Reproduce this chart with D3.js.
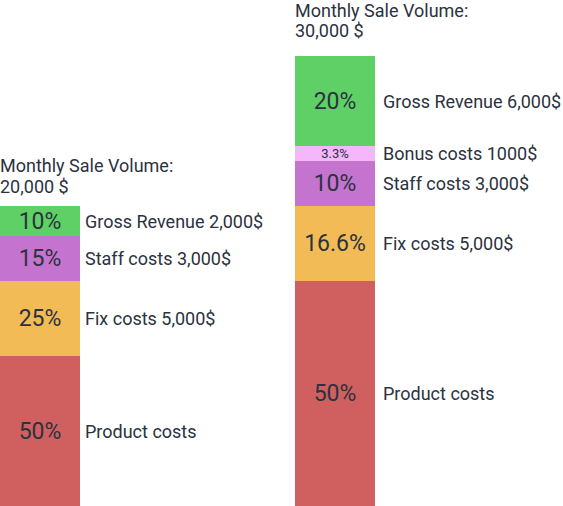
<!DOCTYPE html>
<html><head><meta charset="utf-8">
<script src="https://cdn.jsdelivr.net/npm/d3@7"></script>
<style>html,body{margin:0;padding:0;background:#fff;}svg{display:block;font-family:Roboto,sans-serif;}</style>
</head><body><svg id="c" width="563" height="506"></svg>
<script>
const barNames = ["20,000 $", "30,000 $"];
const barTotals = [20000, 30000];
const titleLine1 = "Monthly Sale Volume:";
const leftValues = [10000, 5000, 3000, 2000];
const leftPct = ["50%", "25%", "15%", "10%"];
const leftLabels = ["Product costs", "Fix costs 5,000$", "Staff costs 3,000$", "Gross Revenue 2,000$"];
const leftColors = ["#cf605f", "#f2bb55", "#c474cf", "#5fd066"];
const rightValues = [15000, 5000, 3000, 1000, 6000];
const rightPct = ["50%", "16.6%", "10%", "3.3%", "20%"];
const rightLabels = ["Product costs", "Fix costs 5,000$", "Staff costs 3,000$", "Bonus costs 1000$", "Gross Revenue 6,000$"];
const rightColors = ["#cf605f", "#f2bb55", "#c474cf", "#f4b8fa", "#5fd066"];

const svg = d3.select("#c");
const x = d3.scaleBand().domain(barNames).range([0, 375]).paddingInner(1 - 80 / 295).paddingOuter(0);
const y = d3.scaleLinear().domain([0, 30000]).range([506, 56]);
const textColor = "#2b3240";

const groups = [
  {name: barNames[0], total: barTotals[0], values: leftValues, pct: leftPct, labels: leftLabels, colors: leftColors},
  {name: barNames[1], total: barTotals[1], values: rightValues, pct: rightPct, labels: rightLabels, colors: rightColors}
];
const labelGap = [5, 8];
const titleOff = [[34, 13], [39, 19]];

groups.forEach((g, gi) => {
  let acc = 0;
  const segs = g.values.map((v, i) => {
    const s = {y0: acc, y1: acc + v, pct: g.pct[i], label: g.labels[i], color: g.colors[i]};
    acc += v;
    return s;
  });
  const gx = x(g.name), bw = x.bandwidth();
  const G = svg.append("g");
  G.selectAll("rect").data(segs).join("rect")
    .attr("x", gx).attr("width", bw)
    .attr("y", d => y(d.y1)).attr("height", d => y(d.y0) - y(d.y1))
    .attr("fill", d => d.color);
  G.selectAll("text.pct").data(segs).join("text").attr("class", "pct")
    .attr("x", gx + bw / 2).attr("y", d => (y(d.y0) + y(d.y1)) / 2)
    .attr("text-anchor", "middle").attr("dominant-baseline", "central")
    .attr("font-size", d => (y(d.y0) - y(d.y1)) < 20 ? 13 : 23)
    .attr("fill", textColor).text(d => d.pct);
  G.selectAll("text.lbl").data(segs).join("text").attr("class", "lbl")
    .attr("x", gx + bw + labelGap[gi]).attr("y", d => (y(d.y0) + y(d.y1)) / 2)
    .attr("dominant-baseline", "central")
    .attr("font-size", 18).attr("fill", textColor).text(d => d.label);
  const top = y(g.total);
  const t = G.append("text").attr("font-size", 18).attr("fill", textColor);
  t.append("tspan").attr("x", gx).attr("y", top - titleOff[gi][0]).text(titleLine1);
  t.append("tspan").attr("x", gx).attr("y", top - titleOff[gi][1]).text(g.name);
});
</script></body></html>
